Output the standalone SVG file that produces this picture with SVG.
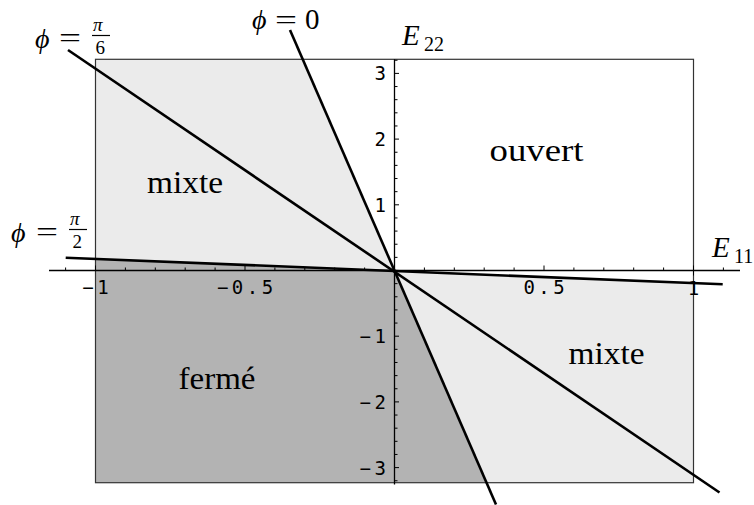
<svg xmlns="http://www.w3.org/2000/svg" width="754" height="505" viewBox="0 0 754 505">
<style>
.light{fill:#ebebeb}
.dark{fill:#b3b3b3}
.frame{fill:none;stroke:#333;stroke-width:1.2}
.axis{fill:none;stroke:#000;stroke-width:1.3}
.tick{fill:none;stroke:#000;stroke-width:1}
.phi{fill:none;stroke:#000;stroke-width:2.6;stroke-linecap:butt}
.num{font-family:"DejaVu Sans Mono","Liberation Mono",monospace;font-size:19px;letter-spacing:3.5px;fill:#000}
.reg{font-family:"Liberation Serif","Times New Roman",serif;font-size:32px;fill:#000}
.math{font-family:"Liberation Serif","DejaVu Serif",serif;fill:#000}
.it{font-style:italic}
</style>
<rect width="754" height="505" fill="#fff"/>
<g id="regions">
<polygon id="mixte-haut" class="light" points="95.5,59.3 302.7,59.3 394.5,270.5 95.5,258.4"/>
<polygon id="ferme" class="dark" points="95.5,258.4 394.5,270.5 486.7,482.7 95.5,482.7"/>
<polygon id="mixte-bas" class="light" points="394.5,270.5 486.7,482.7 693.5,482.7 693.5,282.6"/>
<rect id="cadre" class="frame" x="95.5" y="59.3" width="598" height="423.4"/>
</g>
<g id="axes">
<path class="axis" d="M49 270.5H740M394.5 59.3V484.5"/>
<path class="tick" d="M65.6 270.5v-3M125.4 270.5v-3M155.3 270.5v-3M185.2 270.5v-3M215.1 270.5v-3M274.9 270.5v-3M304.8 270.5v-3M334.7 270.5v-3M364.6 270.5v-3M424.4 270.5v-3M454.3 270.5v-3M484.2 270.5v-3M514.1 270.5v-3M573.9 270.5v-3M603.8 270.5v-3M633.7 270.5v-3M663.6 270.5v-3M723.4 270.5v-3"/>
<path class="tick" d="M95.5 270.5v-5M245 270.5v-5M544 270.5v-5M693.5 270.5v-5M693.5 270.5v5"/>
<path class="tick" d="M394.5 257.36h3M394.5 244.22h3M394.5 231.08h3M394.5 217.94h3M394.5 191.66h3M394.5 178.52h3M394.5 165.38h3M394.5 152.24h3M394.5 125.96h3M394.5 112.82h3M394.5 99.68h3M394.5 86.54h3M394.5 60.26h3M394.5 283.64h3M394.5 296.78h3M394.5 309.92h3M394.5 323.06h3M394.5 349.34h3M394.5 362.48h3M394.5 375.62h3M394.5 388.76h3M394.5 415.04h3M394.5 428.18h3M394.5 441.32h3M394.5 454.46h3M394.5 480.74h3"/>
<path class="tick" d="M394.5 204.8h4.5M394.5 139.1h4.5M394.5 73.4h4.5M394.5 336.2h4.5M394.5 401.9h4.5M394.5 467.6h4.5"/>
<g id="xlabels" class="num" text-anchor="middle">
<text x="97.3" y="294">−1</text>
<text x="246.8" y="294">−0.5</text>
<text x="545.8" y="294">0.5</text>
<text x="695.3" y="295">1</text>
</g>
<g id="ylabels" class="num" text-anchor="end">
<text x="389.5" y="80.4">3</text>
<text x="389.5" y="146.1">2</text>
<text x="389.5" y="211.8">1</text>
<text x="389.5" y="343.2">−1</text>
<text x="389.5" y="408.9">−2</text>
<text x="389.5" y="474.6">−3</text>
</g>
</g>
<g id="connectors">
<line id="phi0" class="phi" x1="290" y1="30" x2="496" y2="504.5"/>
<line id="phi-pi6" class="phi" x1="68" y1="50" x2="719.5" y2="492.5"/>
<line id="phi-pi2" class="phi" x1="65.7" y1="257.7" x2="722.7" y2="284.3"/>
</g>
<g id="region-labels" class="reg">
<text id="lbl-mixte-haut" x="147" y="193.3" textLength="76" lengthAdjust="spacingAndGlyphs">mixte</text>
<text id="lbl-ouvert" x="489.5" y="160.7" textLength="94" lengthAdjust="spacingAndGlyphs">ouvert</text>
<text id="lbl-mixte-bas" x="568.5" y="364.3" textLength="76" lengthAdjust="spacingAndGlyphs">mixte</text>
<text id="lbl-ferme" x="178.5" y="389.3" textLength="77" lengthAdjust="spacingAndGlyphs">fermé</text>
</g>
<g id="math-labels" class="math">
<g id="lbl-phi-pi6">
<text class="it" x="35" y="48" font-size="28">ϕ</text>
<text x="59" y="47" font-size="28" textLength="22" lengthAdjust="spacingAndGlyphs">=</text>
<text class="it" x="93" y="31" font-size="19">π</text>
<line x1="92" y1="35.5" x2="110" y2="35.5" stroke="#000" stroke-width="1.2"/>
<text x="95.5" y="53.5" font-size="19">6</text>
</g>
<g id="lbl-phi0">
<text class="it" x="252" y="29" font-size="28">ϕ</text>
<text x="275" y="29" font-size="28" textLength="22" lengthAdjust="spacingAndGlyphs">=</text>
<text x="305" y="29" font-size="29">0</text>
</g>
<g id="lbl-phi-pi2">
<text class="it" x="70" y="225" font-size="19">π</text>
<text class="it" x="11" y="242" font-size="28">ϕ</text>
<text x="36" y="241" font-size="28" textLength="22" lengthAdjust="spacingAndGlyphs">=</text>
<line x1="69" y1="229.5" x2="87" y2="229.5" stroke="#000" stroke-width="1.2"/>
<text x="72.5" y="247.5" font-size="19">2</text>
</g>
<g id="lbl-E22">
<text class="it" x="402" y="45" font-size="29">E</text>
<text x="424" y="51" font-size="20">22</text>
</g>
<g id="lbl-E11">
<text class="it" x="712" y="256.7" font-size="29">E</text>
<text x="734" y="263" font-size="20">11</text>
</g>
</g>
</svg>
